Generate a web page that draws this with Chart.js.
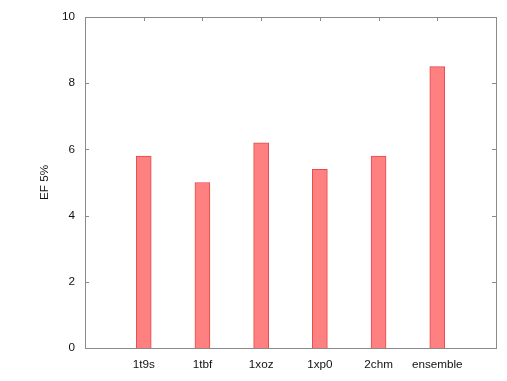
<!DOCTYPE html>
<html>
<head>
<meta charset="utf-8">
<script src="https://cdn.jsdelivr.net/npm/chart.js@4/dist/chart.umd.min.js"></script>
<style>
  html, body { margin: 0; padding: 0; background: #fff; }
  #wrap { width: 507px; height: 381px; }
</style>
</head>
<body>
<div id="wrap"><canvas id="chart" width="507" height="381"></canvas></div>
<script>
// Categories (blank slots at both ends, like the gnuplot x range)
const categories = ["", "1t9s", "1tbf", "1xoz", "1xp0", "2chm", "ensemble", ""];
// EF 5% values
const efValues = [null, 5.8, 5.0, 6.2, 5.4, 5.8, 8.5, null];
const yTicks = [0, 2, 4, 6, 8, 10];

const axisGray = "#8a8a8a";
const labelFont = { family: "Liberation Sans, Arial, sans-serif", size: 11.7 };

// Frame and inward ticks, gnuplot style
const framePlugin = {
  id: "frame",
  beforeDatasetsDraw(chart) {
    const { ctx, chartArea: a, scales } = chart;
    ctx.save();
    ctx.strokeStyle = axisGray;
    ctx.lineWidth = 1;
    ctx.beginPath();
    yTicks.forEach((v) => {
      const y = Math.round(scales.y.getPixelForValue(v)) + 0.5;
      ctx.moveTo(a.left, y); ctx.lineTo(a.left + 4, y);
      ctx.moveTo(a.right, y); ctx.lineTo(a.right - 4, y);
    });
    categories.forEach((c, i) => {
      if (!c) return;
      const x = Math.round(scales.x.getPixelForValue(i)) + 0.5;
      ctx.moveTo(x, a.top); ctx.lineTo(x, a.top + 4);
      ctx.moveTo(x, a.bottom); ctx.lineTo(x, a.bottom - 4);
    });
    ctx.stroke();
    ctx.strokeRect(Math.round(a.left) + 0.5, Math.round(a.top) + 0.5,
      Math.round(a.right - a.left), Math.round(a.bottom - a.top));
    ctx.restore();
  }
};

new Chart(document.getElementById("chart"), {
  type: "bar",
  data: {
    labels: categories,
    datasets: [{
      data: efValues,
      backgroundColor: "#ff8080",
      borderColor: "#e84848",
      borderWidth: { left: 1, top: 1, right: 1, bottom: 0 },
      borderSkipped: false,
      barThickness: 15
    }]
  },
  options: {
    responsive: false,
    animation: false,
    layout: { padding: { left: 0, top: 17, right: 11, bottom: 0 } },
    plugins: {
      legend: { display: false },
      tooltip: { enabled: false }
    },
    scales: {
      x: {
        offset: false,
        grid: { display: false, drawTicks: false },
        border: { display: false },
        ticks: {
          padding: 10,
          color: "#111",
          autoSkip: false,
          maxRotation: 0,
          font: labelFont
        },
        afterFit(scale) { scale.height = 33; }
      },
      y: {
        min: 0,
        max: 10,
        grid: { display: false, drawTicks: false },
        border: { display: false },
        afterBuildTicks(scale) { scale.ticks = yTicks.map((v) => ({ value: v })); },
        ticks: {
          padding: 10,
          color: "#111",
          font: labelFont
        },
        title: {
          display: true,
          text: "EF 5%",
          color: "#111",
          padding: { top: 38, bottom: 0 },
          font: labelFont
        },
        afterFit(scale) { scale.width = 85; }
      }
    }
  },
  plugins: [framePlugin]
});
</script>
</body>
</html>
